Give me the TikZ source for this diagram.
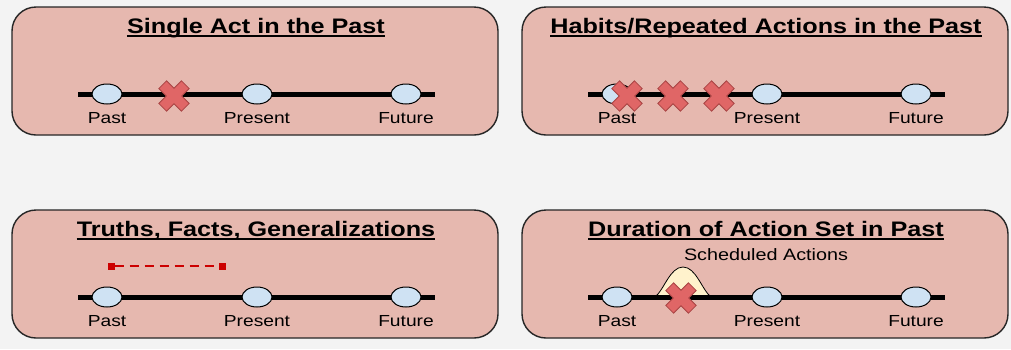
\documentclass[tikz,border=0pt]{standalone}
\usepackage{fontspec}
\setmainfont{Liberation Sans}
\newfontfamily\widefont[FakeStretch=1.2]{Liberation Sans}
\usetikzlibrary{shapes.geometric, positioning}
\pgfdeclarelayer{back}
\pgfsetlayers{back,main}

\definecolor{pagegray}{HTML}{F3F3F3}
\definecolor{panelpink}{HTML}{E6B8AF}
\definecolor{tickblue}{HTML}{CFE2F3}
\definecolor{crossred}{HTML}{E06666}
\definecolor{crossedge}{HTML}{A84444}
\definecolor{bumpyellow}{HTML}{FFF2CC}
\definecolor{factred}{HTML}{CC0000}

\begin{document}
\begin{tikzpicture}[x=1pt, y=-1pt,
    panel/.style={draw=black!85, line width=1.4pt, fill=panelpink, rounded corners=24pt},
    heading/.style={font=\widefont\bfseries\fontsize{21}{24}\selectfont, anchor=base, inner sep=0pt},
    headline/.style={line width=1.6pt},
    timeline/.style={line width=5pt},
    tick/.style={ellipse, draw, line width=1pt, fill=tickblue,
        minimum width=30pt, minimum height=20pt, inner sep=0pt},
    when/.style={font=\widefont\fontsize{16}{18}\selectfont, inner sep=0pt},
    endsq/.style={fill=factred, minimum size=7pt, inner sep=0pt},
    factline/.style={factred, line width=1.4pt, dash pattern=on 9pt off 6pt},
    xmark/.pic={
        \draw[line width=0.8pt, draw=crossedge, fill=crossred, rotate=45]
            (5.5,16) -- (5.5,5.5) -- (16,5.5) -- (16,-5.5) -- (5.5,-5.5) -- (5.5,-16)
            -- (-5.5,-16) -- (-5.5,-5.5) -- (-16,-5.5) -- (-16,5.5) -- (-5.5,5.5) -- (-5.5,16) -- cycle;
    }]

    \begin{pgfonlayer}{back}
        \fill[pagegray] (0,0) rectangle (1011,349);
    \end{pgfonlayer}
    \useasboundingbox (0,0) rectangle (1011,349);

    % four panels, same timeline in each
    \foreach \dx/\dy/\t/\n in {0/0/{Single Act in the Past}/a,
                               510/0/{Habits/Repeated Actions in the Past}/b,
                               0/203/{Truths, Facts, Generalizations}/c,
                               510/203/{Duration of Action Set in Past}/d} {
        \begin{scope}[shift={(\dx,\dy)}]
            \begin{pgfonlayer}{back}
                \draw[panel] (12,7) rectangle (498,135);
            \end{pgfonlayer}
            \node[heading] (title\n) at (256,33) {\t};
            \draw[headline] ([yshift=-3pt]title\n.base west) -- ([yshift=-3pt]title\n.base east);

            \coordinate (start\n) at (78,94);
            \coordinate (end\n) at (435,94);
            \draw[timeline] (start\n) -- (end\n);

            \node[tick] (past\n) at (107,94) {};
            \node[tick] (present\n) at (257,94) {};
            \node[tick] (future\n) at (406,94) {};
            \node[when, below=8pt of past\n] (pastlbl\n) {Past};
            \node[when, below=8pt of present\n] (presentlbl\n) {Present};
            \node[when, below=8pt of future\n] (futurelbl\n) {Future};
        \end{scope}
    }

    % single act
    \pic at (174,96) {xmark};

    % habits
    \foreach \x in {627,673,719}
        \pic at (\x,96) {xmark};

    % truths
    \node[endsq] (from) at (111,266) {};
    \node[endsq] (to) at (222,266) {};
    \draw[factline] (from) -- (to);

    % duration
    \begin{pgfonlayer}{back}
        \draw[fill=bumpyellow, line width=0.8pt] (655,297) .. controls (664,290) and (670,267) .. (683,267)
            .. controls (696,267) and (702,290) .. (711,297);
    \end{pgfonlayer}
    \node[when, font=\widefont\fontsize{16.5}{18}\selectfont] (sched) at (766,255) {Scheduled Actions};
    \pic at (681,298) {xmark};

\end{tikzpicture}
\end{document}
